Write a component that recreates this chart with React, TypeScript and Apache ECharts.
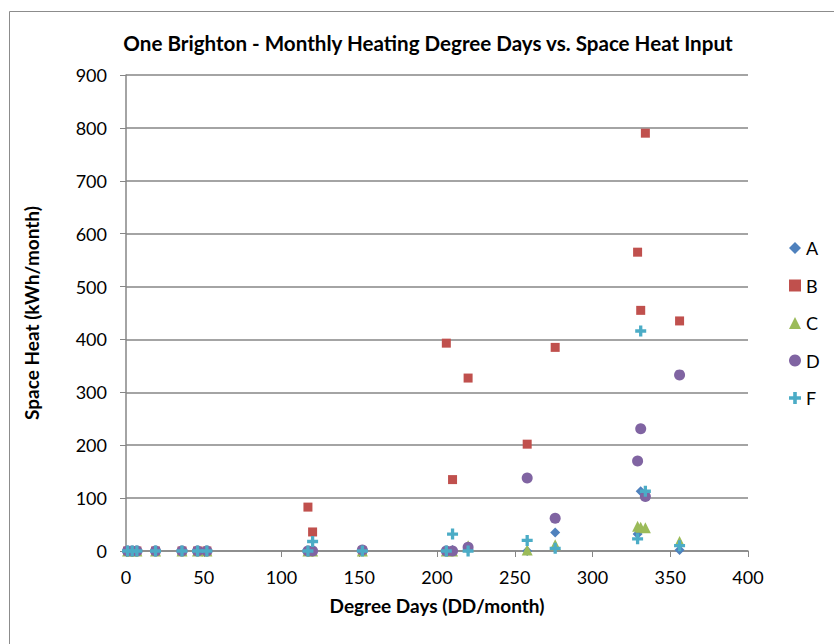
import React, { useEffect, useRef } from "react";
import * as echarts from "echarts";

const degreeDays = [1, 4, 7, 19, 36, 46, 52, 117, 120, 152, 206, 210, 220, 258, 276, 329, 331, 334, 356];
const seriesA = [0, 0, 0, 0, 0, 0, 0, 0, 0, 0, 0, 2, 5, 0, 35, 32, 113, null, 2];
const seriesB = [0, 0, 0, 0, 0, 0, 0, 83, 36, 0, 393, 135, 327, 202, 385, 565, 455, 790, 435];
const seriesC = [0, 0, 0, 0, 0, 0, 0, 0, 0, 0, 0, 0, 10, 2, 12, 47, 45, 44, 18];
const seriesD = [0, 0, 0, 0, 0, 0, 0, 0, 0, 2, 0, 0, 7, 138, 62, 170, 231, 103, 333];
const seriesF = [0, 0, 0, 0, 0, 0, 0, 0, 18, 0, 0, 32, 0, 20, 5, 23, 416, 113, 10];

const seriesNames = ["A", "B", "C", "D", "F"];
const seriesValues = [seriesA, seriesB, seriesC, seriesD, seriesF];
const colors = ["#4F81BD", "#C0504D", "#9BBB59", "#8064A2", "#4BACC6"];
const PLUS = "path://M3.5,0H6.5V3.5H10V6.5H6.5V10H3.5V6.5H0V3.5H3.5Z";
const symbols = ["diamond", "rect", "triangle", "circle", PLUS];
const symbolSizes = [10, 9, 11, 11, 11];

const FONT = "Lato, 'Open Sans', sans-serif";

export default function App() {
  const ref = useRef<HTMLDivElement>(null);
  useEffect(() => {
    document.body.style.margin = "0";
    const chart = echarts.init(ref.current!, null, { renderer: "svg" });
    chart.setOption({
      animation: false,
      textStyle: { fontFamily: FONT },
      title: {
        text: "One Brighton - Monthly Heating Degree Days vs. Space Heat Input",
        left: 423,
        textAlign: "center",
        top: 27,
        textStyle: { fontFamily: FONT, fontSize: 20.6, fontWeight: "bold", color: "#000" },
      },
      graphic: [
        {
          type: "rect",
          shape: { x: 9.5, y: 11.5, width: 900, height: 800 },
          style: { fill: "none", stroke: "#8c8c8c", lineWidth: 1 },
          silent: true,
        },
      ],
      legend: {
        orient: "vertical",
        left: 784,
        top: 234,
        itemGap: 19.5,
        itemWidth: 12,
        itemHeight: 12,
        textStyle: { fontFamily: FONT, fontSize: 18, color: "#000" },
        data: seriesNames.map((n, i) => ({ name: n, icon: i === 4 ? PLUS : undefined })),
      },
      grid: { left: 126, right: 86, top: 75, bottom: 93, containLabel: false },
      xAxis: {
        type: "value",
        min: 0,
        max: 400,
        interval: 50,
        name: "Degree Days (DD/month)",
        nameLocation: "middle",
        nameGap: 45,
        nameTextStyle: { fontFamily: FONT, fontSize: 19, fontWeight: "bold", color: "#000" },
        axisLine: { show: true, lineStyle: { color: "#868686", width: 1.5 } },
        axisTick: { show: true, inside: false, length: 6, lineStyle: { color: "#868686" } },
        axisLabel: { fontFamily: FONT, fontSize: 18, color: "#000", margin: 17 },
        splitLine: { show: false },
      },
      yAxis: {
        type: "value",
        min: 0,
        max: 900,
        interval: 100,
        name: "Space Heat (kWh/month)",
        nameLocation: "middle",
        nameGap: 85,
        nameTextStyle: { fontFamily: FONT, fontSize: 19, fontWeight: "bold", color: "#000" },
        axisLine: { show: true, lineStyle: { color: "#868686", width: 1.5 } },
        axisTick: { show: true, inside: false, length: 6, lineStyle: { color: "#868686" } },
        axisLabel: { fontFamily: FONT, fontSize: 18, color: "#000", margin: 19 },
        splitLine: { show: true, lineStyle: { color: "#868686", width: 1.5 } },
      },
      series: seriesNames.map((n, i) => ({
        name: n,
        type: "scatter",
        symbol: symbols[i],
        symbolSize: symbolSizes[i],
        itemStyle: { color: colors[i], opacity: 1 },
        data: degreeDays.map((x, j) => [x, seriesValues[i][j]]),
        z: 2 + i,
      })),
    });
    return () => chart.dispose();
  }, []);
  return <div ref={ref} style={{ width: 834, height: 644 }} />;
}
